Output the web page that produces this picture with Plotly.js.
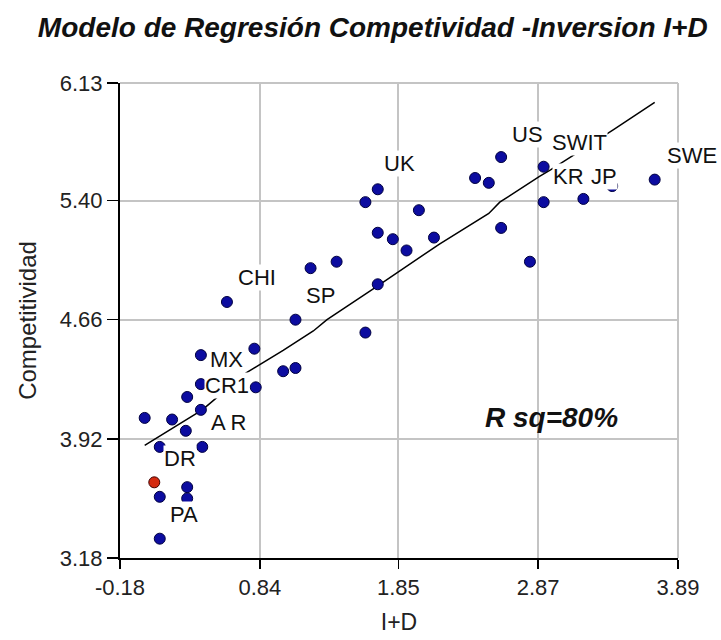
<!DOCTYPE html>
<html>
<head>
<meta charset="utf-8">
<script src="https://cdn.plot.ly/plotly-3.0.1.min.js"></script>
<style>html,body{margin:0;padding:0;background:#fff;}#chart{width:721px;height:640px;}</style>
</head>
<body>
<div id="chart"></div>
<script>
// Blue points (I+D, Competitividad)
var ptX = [0.00, 0.20, 0.31, 0.41, 0.41, 0.30, 0.11, 0.42, 0.11, 0.31, 0.31, 0.11, 0.81,
           0.60, 1.10, 0.80, 0.41, 1.01, 1.10, 1.70, 1.61, 2.00, 1.70, 1.81, 1.91, 2.11,
           1.21, 1.40, 1.70, 1.61, 2.60, 2.41, 2.51, 2.91, 2.91, 3.20, 3.72, 2.60, 2.81, 3.41];
var ptY = [4.05, 4.04, 4.18, 4.26, 4.10, 3.97, 3.87, 3.87, 3.56, 3.62, 3.55, 3.30, 4.24,
           4.77, 4.66, 4.48, 4.44, 4.34, 4.36, 5.47, 5.39, 5.34, 5.20, 5.16, 5.09, 5.17,
           4.98, 5.02, 4.88, 4.58, 5.67, 5.54, 5.51, 5.61, 5.39, 5.41, 5.53, 5.23, 5.02, 5.49];
// Highlighted (red) point
var redX = [0.07];
var redY = [3.65];
// Fitted regression curve
var fitX = [0.00, 0.42, 0.74, 1.01, 1.23, 1.33, 1.70, 2.15, 2.51, 2.59, 2.88, 2.96, 3.42, 3.72];
var fitY = [3.88, 4.10, 4.33, 4.47, 4.59, 4.66, 4.87, 5.13, 5.32, 5.39, 5.55, 5.59, 5.84, 6.01];
// Country labels
var lblText = ["CHI", "SP", "UK", "US", "SWIT", "KR", "JP", "SWE", "MX", "CR1", "A R", "DR", "PA"];
var lblX = [0.82, 1.28, 1.86, 2.79, 3.17, 3.09, 3.35, 3.99, 0.60, 0.60, 0.61, 0.26, 0.29];
var lblY = [4.92, 4.81, 5.63, 5.81, 5.76, 5.55, 5.55, 5.68, 4.41, 4.25, 4.02, 3.80, 3.45];
// Axis ticks
var xTicks = [-0.18, 0.84, 1.85, 2.87, 3.89];
var xTickText = ["-0.18", "0.84", "1.85", "2.87", "3.89"];
var yTicks = [3.18, 3.92, 4.66, 5.40, 6.13];
var yTickText = ["3.18", "3.92", "4.66", "5.40", "6.13"];

var FONT = "Liberation Sans, Arial, sans-serif";
var xMin = xTicks[0], xMax = xTicks[xTicks.length - 1];

var traces = [
  {x: fitX, y: fitY, mode: "lines", type: "scatter",
   line: {color: "#000", width: 1.5}, hoverinfo: "skip", showlegend: false},
  {x: ptX, y: ptY, mode: "markers", type: "scatter",
   marker: {color: "#0c0ca0", size: 11, line: {color: "#000040", width: 1}}, showlegend: false},
  {x: redX, y: redY, mode: "markers", type: "scatter",
   marker: {color: "#d42a10", size: 11, line: {color: "#400000", width: 1}}, showlegend: false}
];

var ann = lblText.map(function (t, i) {
  var a = {x: lblX[i], y: lblY[i], text: t, showarrow: false, xanchor: "center", yanchor: "middle",
           font: {family: FONT, size: 22, color: "#111"}, bgcolor: "#fff", borderpad: 0};
  if (lblX[i] > xMax) { a.xref = "paper"; a.x = (lblX[i] - xMin) / (xMax - xMin); }
  return a;
});
ann.push({x: 2.97, y: 4.05, text: "<b><i>R sq=80%</i></b>", showarrow: false, xanchor: "center", yanchor: "middle",
          font: {family: FONT, size: 28, color: "#111"}});

var layout = {
  width: 721, height: 640,
  margin: {l: 120, r: 43, t: 83, b: 82},
  paper_bgcolor: "#fff", plot_bgcolor: "#fff",
  showlegend: false,
  title: {text: "<b><i>Modelo de Regresión Competividad -Inversion I+D</i></b>",
          font: {family: FONT, size: 28, color: "#111"},
          x: 0.517, xref: "container", xanchor: "center", y: 0.958, yref: "container", yanchor: "middle"},
  xaxis: {range: [xMin, xMax], tickmode: "array", tickvals: xTicks, ticktext: xTickText,
          showgrid: true, gridcolor: "#c4c4c4", gridwidth: 2, zeroline: false,
          showline: true, linecolor: "#000", linewidth: 2,
          ticks: "outside", ticklen: 9, tickwidth: 1.5, tickcolor: "#000",
          tickfont: {family: FONT, size: 22, color: "#222"},
          title: {text: "I+D", font: {family: FONT, size: 23, color: "#222"}, standoff: 14}},
  yaxis: {range: [yTicks[0], yTicks[yTicks.length - 1]], tickmode: "array", tickvals: yTicks, ticktext: yTickText,
          showgrid: true, gridcolor: "#c4c4c4", gridwidth: 2, zeroline: false,
          showline: true, linecolor: "#000", linewidth: 2,
          ticks: "outside", ticklen: 11, tickwidth: 1.5, tickcolor: "#000",
          tickfont: {family: FONT, size: 22, color: "#222"},
          title: {text: "Competitividad", font: {family: FONT, size: 24, color: "#222"}, standoff: 16}},
  shapes: [
    {type: "line", xref: "paper", yref: "paper", x0: 0, x1: 1, y0: 1, y1: 1, line: {color: "#c4c4c4", width: 2}, layer: "below"},
    {type: "line", xref: "paper", yref: "paper", x0: 1, x1: 1, y0: 0, y1: 1, line: {color: "#c4c4c4", width: 2}, layer: "below"}
  ],
  annotations: ann
};

Plotly.newPlot("chart", traces, layout, {displayModeBar: false, staticPlot: true});
</script>
</body>
</html>
